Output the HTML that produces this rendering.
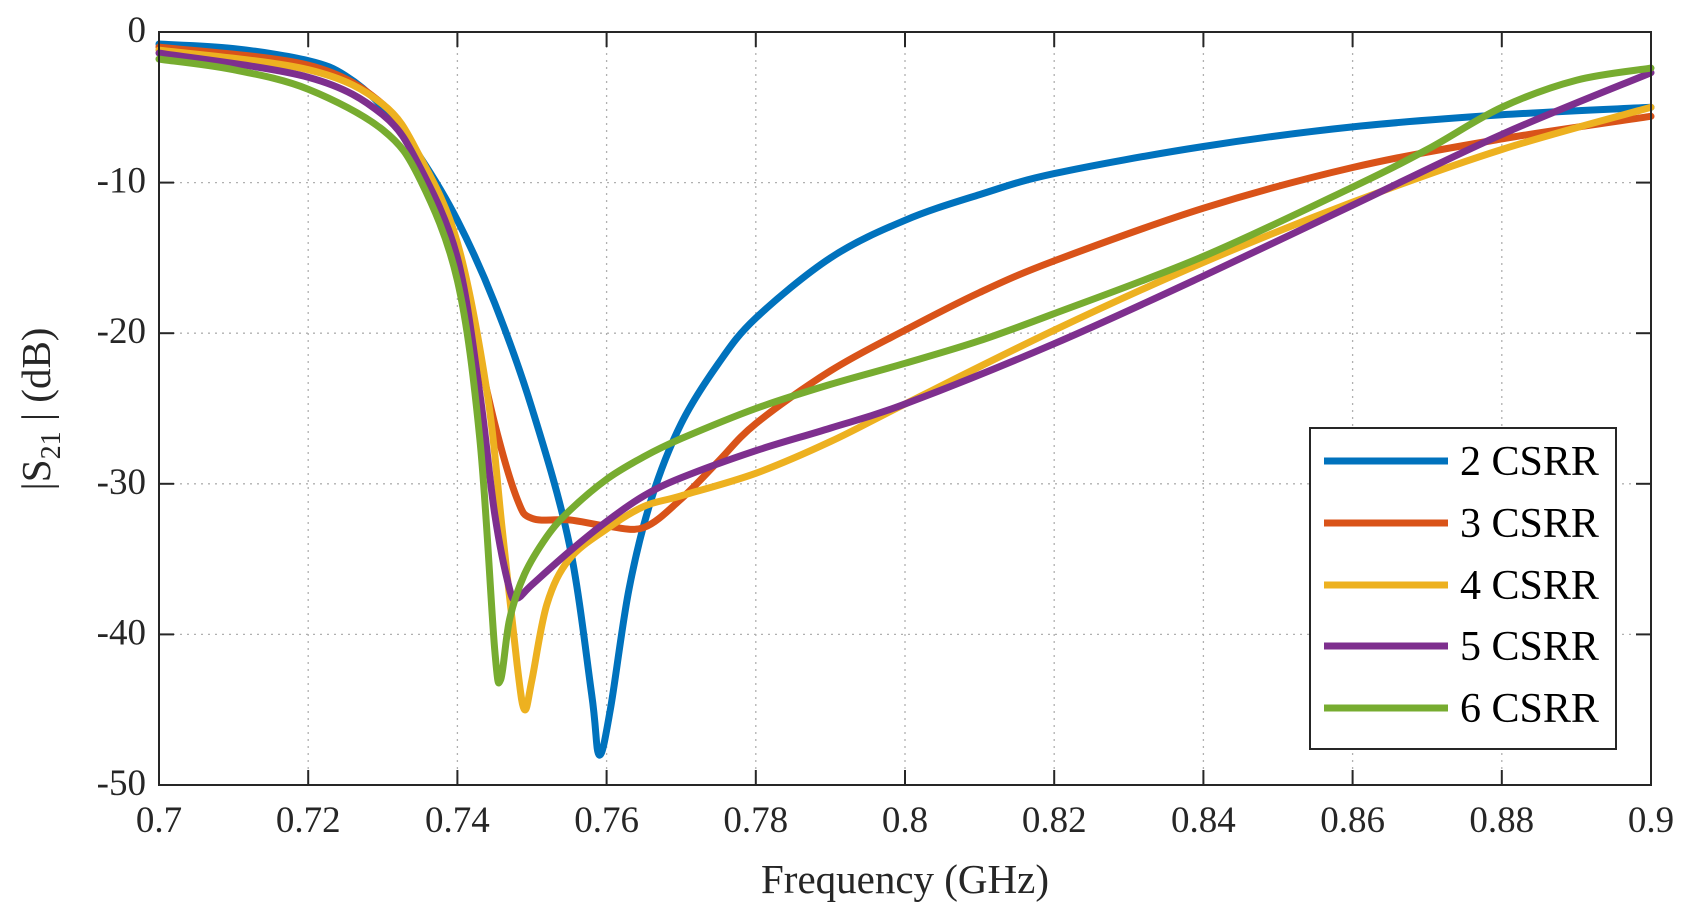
<!DOCTYPE html>
<html><head><meta charset="utf-8"><style>
html,body{margin:0;padding:0;background:#fff;}
svg{display:block;font-family:"Liberation Serif",serif;}
</style></head><body>
<svg id="s" width="1688" height="913" viewBox="0 0 1688 913" xmlns="http://www.w3.org/2000/svg">
<rect width="1688" height="913" fill="#fff"/>
<g id="grid" stroke="#b0b0b0" stroke-width="1.3" stroke-dasharray="2,5"></g>
<g id="curves" fill="none" stroke-width="7" stroke-linejoin="round" stroke-linecap="round"></g>
<rect x="159" y="32" width="1492" height="753" fill="none" stroke="#262626" stroke-width="2"/>
<g id="ticks" stroke="#262626" stroke-width="2"></g>
<g id="labels" fill="#262626" font-size="37"></g>
<text x="905" y="893" font-size="41" text-anchor="middle" fill="#262626">Frequency (GHz)</text>
<text transform="translate(50,409) rotate(-90)" font-size="41" text-anchor="middle" fill="#262626">|S<tspan font-size="28" dy="10">21</tspan><tspan dy="-10"> | (dB)</tspan></text>
<rect x="1310" y="428" width="306" height="321" fill="#fff" stroke="#262626" stroke-width="2"/>
<g id="legend" font-size="42" fill="#000"></g>
</svg>
<script>
var X=function(f){return 159+(f-0.7)/0.2*1492;};
var Y=function(d){return 32+(-d)/50*753;};
var ns="http://www.w3.org/2000/svg";
function el(p,t,a,txt){var e=document.createElementNS(ns,t);for(var k in a)e.setAttribute(k,a[k]);if(txt!=null)e.textContent=txt;document.getElementById(p).appendChild(e);}
for(var i=1;i<10;i++){var x=X(0.7+i*0.02);el("grid","line",{x1:x,y1:32,x2:x,y2:785});}
for(var j=1;j<5;j++){var y=Y(-10*j);el("grid","line",{x1:159,y1:y,x2:1651,y2:y});}
var xl=["0.7","0.72","0.74","0.76","0.78","0.8","0.82","0.84","0.86","0.88","0.9"];
for(var i=0;i<=10;i++){var x=X(0.7+i*0.02);
 el("ticks","line",{x1:x,y1:785,x2:x,y2:770});el("ticks","line",{x1:x,y1:32,x2:x,y2:47});
 el("labels","text",{x:x,y:832,"text-anchor":"middle"},xl[i]);}
for(var j=0;j<=5;j++){var y=Y(-10*j);
 el("ticks","line",{x1:159,y1:y,x2:174,y2:y});el("ticks","line",{x1:1651,y1:y,x2:1636,y2:y});
 el("labels","text",{x:146,y:y+10,"text-anchor":"end"},j==0?"0":"-"+(10*j));}
var data=[
["#0072BD",[[0.7,-0.8],[0.71,-1.1],[0.72,-1.9],[0.725,-2.9],[0.73,-5],[0.735,-8.3],[0.74,-12.5],[0.745,-18],[0.75,-25],[0.755,-34],[0.758,-44],[0.759,-48],[0.7605,-45],[0.763,-37],[0.766,-31],[0.77,-26],[0.775,-22],[0.78,-19],[0.79,-15],[0.8,-12.5],[0.81,-10.8],[0.82,-9.4],[0.84,-7.6],[0.86,-6.3],[0.88,-5.5],[0.9,-5.0]]],
["#D95319",[[0.7,-1.0],[0.72,-2.2],[0.73,-4.8],[0.735,-8.5],[0.74,-15.5],[0.745,-26],[0.748,-31],[0.75,-32.3],[0.755,-32.4],[0.76,-32.8],[0.765,-32.9],[0.77,-31],[0.775,-28.5],[0.78,-26],[0.79,-22.5],[0.8,-19.8],[0.81,-17.3],[0.82,-15.2],[0.84,-11.7],[0.86,-9.0],[0.88,-7.1],[0.9,-5.6]]],
["#EDB120",[[0.7,-1.2],[0.72,-2.5],[0.73,-4.8],[0.735,-8.3],[0.74,-14],[0.744,-24],[0.746,-33],[0.748,-42],[0.749,-45],[0.75,-43],[0.752,-38],[0.755,-35],[0.76,-33],[0.765,-31.5],[0.77,-30.8],[0.78,-29.3],[0.79,-27.2],[0.8,-24.7],[0.82,-19.8],[0.84,-15.3],[0.86,-11.3],[0.88,-7.8],[0.9,-5.0]]],
["#7E2F8E",[[0.7,-1.4],[0.72,-3],[0.73,-5.5],[0.735,-9],[0.74,-15],[0.743,-24],[0.745,-32],[0.747,-37],[0.748,-37.6],[0.75,-36.7],[0.755,-34.5],[0.76,-32.5],[0.765,-30.8],[0.77,-29.6],[0.78,-27.8],[0.79,-26.3],[0.8,-24.7],[0.82,-20.7],[0.84,-16.2],[0.86,-11.5],[0.88,-6.8],[0.9,-2.7]]],
["#77AC30",[[0.7,-1.8],[0.71,-2.5],[0.72,-3.8],[0.73,-6.5],[0.735,-9.8],[0.74,-16.5],[0.743,-27],[0.745,-41],[0.7458,-43],[0.747,-39],[0.749,-36],[0.752,-33.5],[0.755,-31.8],[0.76,-29.7],[0.765,-28.2],[0.77,-27],[0.78,-25],[0.79,-23.4],[0.8,-22],[0.81,-20.5],[0.82,-18.7],[0.84,-14.9],[0.86,-10.3],[0.87,-7.8],[0.88,-5],[0.89,-3.2],[0.9,-2.4]]]];
function path(pts){var p=pts.map(function(q){return [X(q[0]),Y(q[1])];});var d="M"+p[0][0]+","+p[0][1];
 for(var i=0;i<p.length-1;i++){var p0=p[Math.max(0,i-1)],p1=p[i],p2=p[i+1],p3=p[Math.min(p.length-1,i+2)];
  var c1=[p1[0]+(p2[0]-p0[0])/6,p1[1]+(p2[1]-p0[1])/6],c2=[p2[0]-(p3[0]-p1[0])/6,p2[1]-(p3[1]-p1[1])/6];
  d+="C"+c1[0].toFixed(1)+","+c1[1].toFixed(1)+" "+c2[0].toFixed(1)+","+c2[1].toFixed(1)+" "+p2[0].toFixed(1)+","+p2[1].toFixed(1);}
 return d;}
var ly=[461,523,585,646,708];
data.forEach(function(s,i){el("curves","path",{d:path(s[1]),stroke:s[0]});
 el("legend","line",{x1:1324,y1:ly[i],x2:1448,y2:ly[i],stroke:s[0],"stroke-width":7});
 el("legend","text",{x:1460,y:ly[i]+14},(i+2)+" CSRR");});
</script>
</body></html>
